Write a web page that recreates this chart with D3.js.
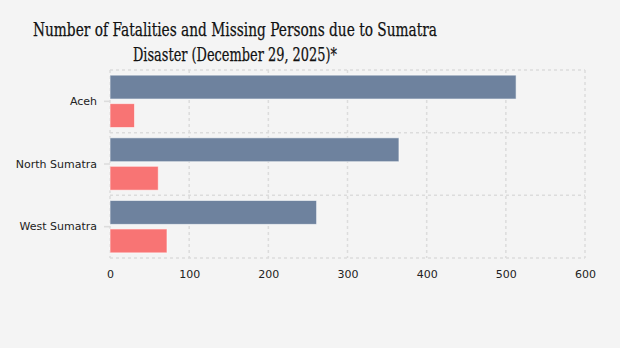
<!DOCTYPE html>
<html><head><meta charset="utf-8">
<script src="https://cdn.jsdelivr.net/npm/d3@7"></script>
<style>body{margin:0;background:#f4f4f4;} svg{display:block;}</style>
</head><body>
<svg id="c" width="620" height="348"></svg>
<script>
const categories = ["Aceh", "North Sumatra", "West Sumatra"];
const seriesNames = ["Fatalities", "Missing"];
const fatalities = [513, 365, 261];
const missing = [31, 61, 72];
const xTicks = [0, 100, 200, 300, 400, 500, 600];
const titleLines = ["Number of Fatalities and Missing Persons due to Sumatra", "Disaster (December 29, 2025)*"];
const titleWidths = [404, 204];
const colors = ["#6e829e", "#f87474"];

const svg = d3.select("#c");
svg.append("rect").attr("width", 620).attr("height", 348).attr("fill", "#f4f4f4");
const m = {l: 110, r: 35, t: 70, b: 90};
const W = 620 - m.l - m.r, H = 348 - m.t - m.b;
const g = svg.append("g").attr("transform", `translate(${m.l},${m.t})`);

const x = d3.scaleLinear().domain([0, 600]).range([0, W]);
const y = d3.scaleBand().domain(categories).range([0, H]).paddingInner(0).paddingOuter(0);
const y1 = d3.scaleBand().domain(seriesNames).range([0, y.bandwidth()]).paddingInner(0.16).paddingOuter(0.18);

// grid
const grid = g.append("g");
xTicks.forEach(t => grid.append("line").attr("x1", x(t)).attr("x2", x(t)).attr("y1", 0).attr("y2", H)
  .attr("stroke", "#dcdcdc").attr("stroke-width", 1.5).attr("stroke-dasharray", "3,3"));
const bounds = [0, ...categories.map(c => y(c) + y.bandwidth())];
bounds.forEach(b => grid.append("line").attr("x1", 0).attr("x2", W).attr("y1", b).attr("y2", b)
  .attr("stroke", "#dcdcdc").attr("stroke-width", 1.5).attr("stroke-dasharray", "3,3"));

const rows = categories.map((c, i) => ({c, vals: [fatalities[i], missing[i]]}));
const grp = g.selectAll("g.row").data(rows).enter().append("g").attr("transform", d => `translate(0,${y(d.c)})`);
grp.selectAll("rect").data(d => d.vals.map((v, j) => ({v, s: seriesNames[j], j}))).enter().append("rect")
  .attr("x", x(0)).attr("y", d => y1(d.s)).attr("width", d => x(d.v) - x(0)).attr("height", y1.bandwidth())
  .attr("fill", d => colors[d.j]).attr("stroke", "#ffffff").attr("stroke-opacity", 0.6).attr("stroke-width", 1);

// y axis
const ya = g.append("g").call(d3.axisLeft(y).tickSize(6).tickPadding(7));
ya.select(".domain").remove();
ya.selectAll(".tick line").attr("stroke", "#dcdcdc").attr("stroke-width", 1.5);
ya.selectAll(".tick text").attr("font-family", "DejaVu Sans, Verdana, sans-serif").attr("font-size", 11).attr("fill", "#222");

// x axis
const xa = g.append("g").attr("transform", `translate(0,${H})`).call(d3.axisBottom(x).tickValues(xTicks).tickSize(0).tickPadding(12));
xa.select(".domain").remove();
xa.selectAll(".tick text").attr("font-family", "DejaVu Sans, Verdana, sans-serif").attr("font-size", 11).attr("fill", "#222");

// title
titleLines.forEach((l, i) => svg.append("text").attr("text-anchor", "middle")
  .attr("font-family", "DejaVu Serif, serif").attr("font-size", 19).attr("fill", "#111")
  .attr("stroke", "#111").attr("stroke-width", 0.25)
  .attr("x", 235).attr("y", 36 + i * 24.5)
  .attr("textLength", titleWidths[i]).attr("lengthAdjust", "spacingAndGlyphs").text(l));
</script>
</body></html>
